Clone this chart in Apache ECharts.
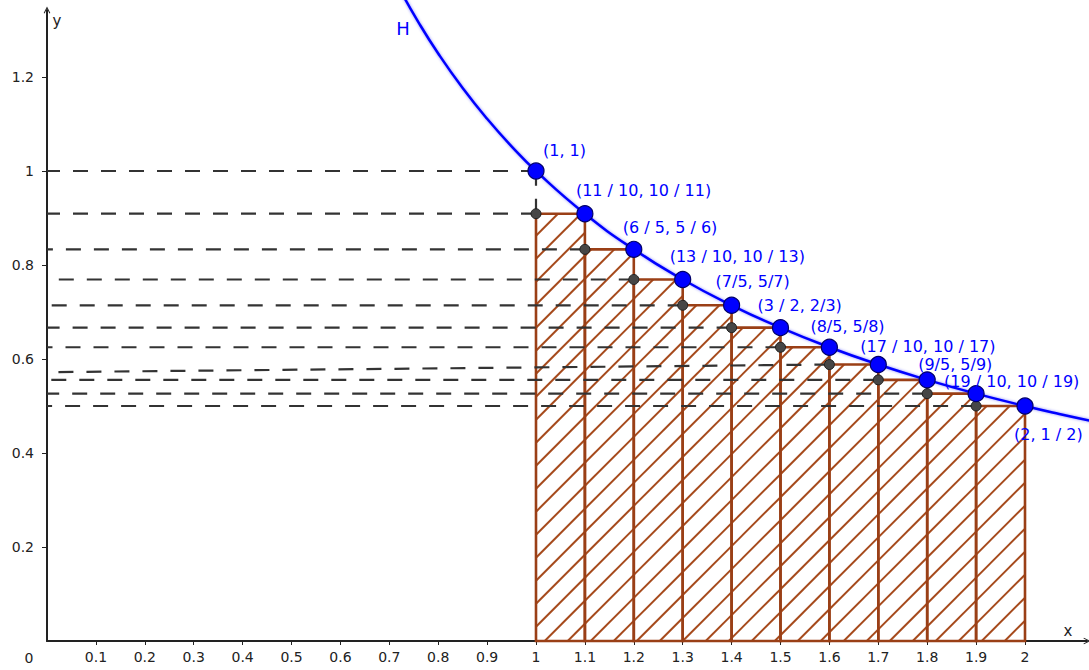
<!DOCTYPE html>
<html>
<head>
<meta charset="utf-8">
<script src="https://cdn.jsdelivr.net/npm/echarts@6/dist/echarts.min.js"></script>
<style>
  html, body { margin: 0; padding: 0; background: #fff; }
  #chart { width: 1089px; height: 670px; }
</style>
</head>
<body>
<div id="chart"></div>
<script>
// ---- data ----
const xVals = [1.0, 1.1, 1.2, 1.3, 1.4, 1.5, 1.6, 1.7, 1.8, 1.9, 2.0];
const yVals = [1, 0.9091, 0.8333, 0.7692, 0.7143, 0.6667, 0.625, 0.5882, 0.5556, 0.5263, 0.5];
const pointLabels = ['(1, 1)', '(11 / 10, 10 / 11)', '(6 / 5, 5 / 6)', '(13 / 10, 10 / 13)',
  '(7/5, 5/7)', '(3 / 2, 2/3)', '(8/5, 5/8)', '(17 / 10, 10 / 17)', '(9/5, 5/9)',
  '(19 / 10, 10 / 19)', '(2, 1 / 2)'];
// curve H (y = 1/x) values
const curveX = [0.72, 0.76, 0.8, 0.85, 0.9, 0.95, 1.0, 1.1, 1.2, 1.3, 1.4, 1.5, 1.6, 1.7, 1.8, 1.9, 2.0, 2.07, 2.15];
const curveY = [1.3889, 1.3158, 1.25, 1.1765, 1.1111, 1.0526, 1, 0.9091, 0.8333, 0.7692, 0.7143, 0.6667, 0.625, 0.5882, 0.5556, 0.5263, 0.5, 0.4831, 0.4651];
// dashed guide lines: start height at the y axis, end x, end height
const dashStartY = [1, 0.9091, 0.8333, 0.7692, 0.7143, 0.6667, 0.625, 0.572, 0.5556, 0.5263, 0.5];
const dashEndX = [1.0, 1.0, 1.1, 1.2, 1.3, 1.4, 1.5, 1.6, 1.7, 1.8, 1.9];
const xTicks = [0.1, 0.2, 0.3, 0.4, 0.5, 0.6, 0.7, 0.8, 0.9, 1, 1.1, 1.2, 1.3, 1.4, 1.5, 1.6, 1.7, 1.8, 1.9, 2];
const yTicks = [0.2, 0.4, 0.6, 0.8, 1, 1.2];

// ---- styles / layout ----
const labelOffsets = [[7,-21],[-9,-23],[-11,-22],[-13,-23],[-16,-24],[-23,-22],[-19,-21],[-18,-18],[-9,-15],[-32,-12],[-11,28]];
const BROWN = '#9a3f16';
const HATCH = '#a64a1c';
const DASH = '#333333';
const BLUE = '#0000ff';
const FONT = 'DejaVu Sans';

const rectData = xVals.slice(0, -1).map((x, i) => [x, xVals[i + 1], yVals[i + 1]]);
const dashData = yVals.map((y, i) => [0, dashStartY[i], dashEndX[i], y]);
dashData.push([xVals[0], yVals[0], xVals[0], yVals[1]]);
const grayData = xVals.slice(0, -1).map((x, i) => [x, yVals[i + 1]]);
const blueData = xVals.map((x, i) => ({
  value: [x, yVals[i]],
  label: { formatter: pointLabels[i], offset: labelOffsets[i] }
}));
const curveData = curveX.map((x, i) => [x, curveY[i]]);

function renderRect(params, api) {
  const x0 = api.value(0), x1 = api.value(1), h = api.value(2);
  const pBL = api.coord([x0, 0]);
  const pTR = api.coord([x1, h]);
  const L = pBL[0], R = pTR[0], B = pBL[1], T = pTR[1];
  const children = [];
  const S = 23, phase = 12.7;
  const cMin = L + T, cMax = R + B;
  const k0 = Math.ceil((cMin - phase) / S);
  for (let c = phase + k0 * S; c <= cMax; c += S) {
    const xa = Math.max(L, c - B), xb = Math.min(R, c - T);
    if (xb - xa < 0.5) continue;
    children.push({ type: 'line', shape: { x1: xa, y1: c - xa, x2: xb, y2: c - xb },
      style: { stroke: HATCH, lineWidth: 2 } });
  }
  children.push({ type: 'rect', shape: { x: L, y: T, width: R - L, height: B - T },
    style: { fill: 'none', stroke: BROWN, lineWidth: 2.6 } });
  return { type: 'group', children };
}

function renderDash(params, api) {
  const p1 = api.coord([api.value(0), api.value(1)]);
  const p2 = api.coord([api.value(2), api.value(3)]);
  return { type: 'line', shape: { x1: p2[0], y1: p2[1], x2: p1[0], y2: p1[1] },
    style: { stroke: DASH, lineWidth: 2.2, lineDash: [15, 13] } };
}

const chevron = 'path://M0,10 L5,0 L10,10 L8.6,10.6 L5,3.2 L1.4,10.6 Z';

const chart = echarts.init(document.getElementById('chart'), null, { renderer: 'svg' });
chart.setOption({
  backgroundColor: '#ffffff',
  animation: false,
  grid: { left: 47, right: 2, top: 10, bottom: 29, containLabel: false },
  xAxis: {
    type: 'value', min: 0, max: 1040 / 489,
    splitLine: { show: false },
    axisLine: { show: true, onZero: false, symbol: ['none', chevron], symbolSize: [12, 7],
      lineStyle: { color: '#222', width: 2 } },
    axisTick: { show: true, customValues: xTicks, length: 4, inside: false, lineStyle: { color: '#222', width: 1 } },
    axisLabel: { show: true, customValues: xTicks, margin: 9, color: '#222', fontFamily: FONT, fontSize: 14,
      showMinLabel: true, showMaxLabel: true, hideOverlap: false }
  },
  yAxis: {
    type: 'value', min: 0, max: 631 / 470,
    splitLine: { show: false },
    axisLine: { show: true, onZero: false, symbol: ['none', chevron], symbolSize: [12, 7],
      lineStyle: { color: '#222', width: 2 } },
    axisTick: { show: true, customValues: yTicks, length: 5, lineStyle: { color: '#222', width: 1 } },
    axisLabel: { show: true, customValues: yTicks, margin: 13, color: '#222', fontFamily: FONT, fontSize: 14,
      hideOverlap: false }
  },
  graphic: [
    { type: 'text', x: 29, y: 658, style: { text: '0', fill: '#222', font: '14px "DejaVu Sans"', align: 'center', verticalAlign: 'middle' } },
    { type: 'text', x: 1068, y: 631, style: { text: 'x', fill: '#222', font: '15px "DejaVu Sans"', align: 'center', verticalAlign: 'middle' } },
    { type: 'text', x: 57, y: 21, style: { text: 'y', fill: '#222', font: '15px "DejaVu Sans"', align: 'center', verticalAlign: 'middle' } },
    { type: 'text', x: 403, y: 28, style: { text: 'H', fill: BLUE, font: '18px "DejaVu Sans"', align: 'center', verticalAlign: 'middle' } }
  ],
  series: [
    { type: 'custom', name: 'rects', renderItem: renderRect, data: rectData,
      encode: { x: [0, 1], y: 2 }, z: 1, silent: true },
    { type: 'custom', name: 'dashes', renderItem: renderDash, data: dashData,
      encode: { x: [0, 2], y: [1, 3] }, z: 2, silent: true },
    { type: 'line', name: 'H', data: curveData, showSymbol: false, smooth: true, clip: false,
      lineStyle: { color: BLUE, width: 2.5, shadowColor: 'rgba(0,0,255,0.45)', shadowBlur: 3 }, z: 3, silent: true },
    { type: 'scatter', name: 'lower', data: grayData, symbolSize: 10,
      itemStyle: { color: '#464646', borderColor: '#1e1e1e', borderWidth: 1, opacity: 1 }, z: 4, silent: true },
    { type: 'scatter', name: 'points', data: blueData, symbolSize: 16,
      itemStyle: { color: BLUE, borderColor: '#00006a', borderWidth: 1.2, opacity: 1 }, z: 5, silent: true,
      label: { show: true, position: 'inside', align: 'left', verticalAlign: 'middle',
        color: BLUE, fontFamily: FONT, fontSize: 16, lineHeight: 15 } }
  ]
});
</script>
</body>
</html>
